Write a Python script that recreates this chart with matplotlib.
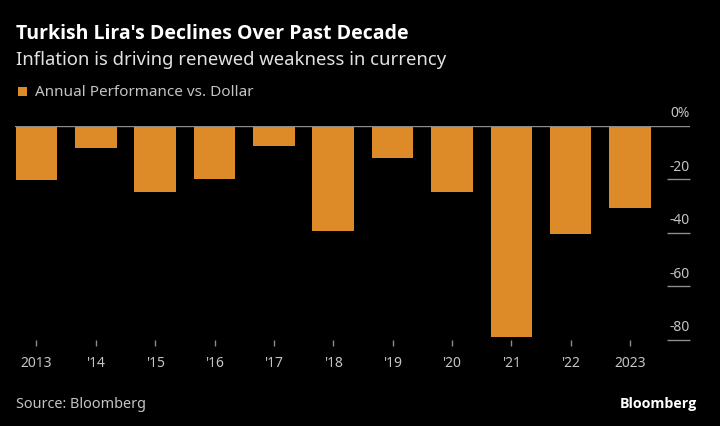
import matplotlib
matplotlib.use("Agg")
import matplotlib.pyplot as plt
import matplotlib.transforms as mtransforms
from matplotlib.patches import Rectangle

YEARS = ['2013', "'14", "'15", "'16", "'17", "'18", "'19", "'20", "'21", "'22", '2023']
PERFORMANCE = [-20.3, -8.5, -24.8, -19.9, -7.5, -39.3, -12.2, -24.8, -79.1, -40.6, -30.6]
Y_TICKS = [0, -20, -40, -60, -80]
Y_LABELS = ['0%', '-20', '-40', '-60', '-80']

BAR_COLOUR = '#dc8b28'
TEXT_GREY = '#c4c4c4'
LINE_GREY = '#8c8c8c'
BOLD_FONT = ['Open Sans', 'DejaVu Sans']

plt.rcParams['font.family'] = ['Noto Sans', 'DejaVu Sans']

fig = plt.figure(figsize=(7.2, 4.27), dpi=100, facecolor='black')
ax = fig.add_axes([15 / 720, 1 - 340.7 / 427, 675 / 720, (340.7 - 126.7) / 427])
ax.set_facecolor('black')

xs = list(range(len(YEARS)))
ax.bar(xs, PERFORMANCE, width=0.7, color=BAR_COLOUR, zorder=2)
ax.axhline(0, color=LINE_GREY, linewidth=1, zorder=3)

ax.set_xlim(-0.362, 11.01)
ax.set_ylim(-80, 0)
for s in ax.spines.values():
	s.set_visible(False)

# x axis: small ticks and year labels
ax.set_xticks(xs)
ax.set_xticklabels(YEARS)
ax.tick_params(axis='x', direction='out', length=4, width=1, color=LINE_GREY,
	labelcolor=TEXT_GREY, labelsize=10, pad=7)

# y axis: short marks on the right, labels sit above them
ax.yaxis.set_ticks_position('right')
ax.set_yticks(Y_TICKS[1:])
ax.tick_params(axis='y', direction='in', length=16.5, width=1, color=LINE_GREY,
	labelright=False, labelleft=False)
trans = mtransforms.blended_transform_factory(ax.transAxes, ax.transData)
offset = mtransforms.ScaledTranslation(0, 4 / 72, fig.dpi_scale_trans)
for v, lab in zip(Y_TICKS, Y_LABELS):
	ax.text(1.0, v, lab, transform=trans + offset, ha='right', va='bottom',
		color=TEXT_GREY, fontsize=10)

# titles and legend
fig.text(16 / 720, 1 - 34 / 427, "Turkish Lira's Declines Over Past Decade", color='white',
	fontsize=14, fontweight='bold', family=BOLD_FONT, ha='left', va='center')
fig.text(16 / 720, 1 - 60 / 427, "Inflation is driving renewed weakness in currency", color='#e2e2e2',
	fontsize=13.3, ha='left', va='center')
fig.patches.append(Rectangle((18 / 720, 1 - 97 / 427), 9 / 720, 9 / 427,
	transform=fig.transFigure, facecolor=BAR_COLOUR, edgecolor='none'))
fig.text(35 / 720, 1 - 92 / 427, "Annual Performance vs. Dollar", color=TEXT_GREY,
	fontsize=11, ha='left', va='center')

# footer
fig.text(16 / 720, 1 - 405 / 427, "Source: Bloomberg", color=TEXT_GREY,
	fontsize=10.4, ha='left', va='center')
fig.text(697 / 720, 1 - 404 / 427, "Bloomberg", color='white',
	fontsize=10.3, fontweight='bold', family=BOLD_FONT, ha='right', va='center')

fig.savefig('out.png', dpi=100, facecolor='black')
